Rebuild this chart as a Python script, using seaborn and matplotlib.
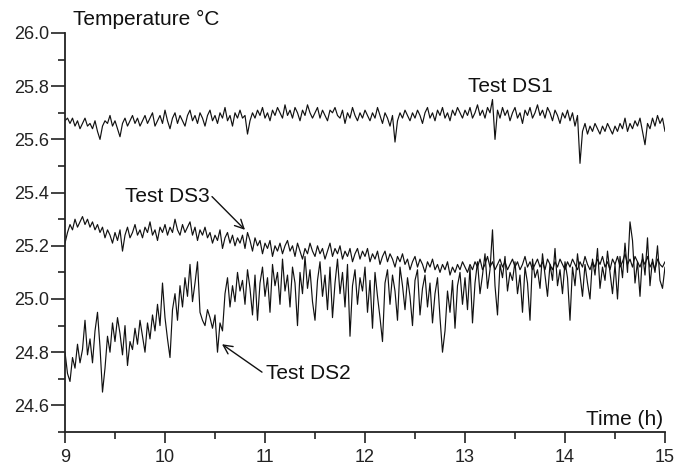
import numpy as np
import pandas as pd
import matplotlib
matplotlib.use("Agg")
import matplotlib.pyplot as plt
import seaborn as sns

# ---- data (temperature in °C, sampled every 0.025 h from 9 h to 15 h) ----
t_start, t_end = 9.0, 15.0

ds1 = [
    25.67, 25.68, 25.66, 25.68, 25.65, 25.67, 25.64, 25.66, 25.68, 25.65,
    25.66, 25.64, 25.67, 25.63, 25.60, 25.65, 25.67, 25.66, 25.69, 25.65,
    25.67, 25.64, 25.61, 25.66, 25.68, 25.65, 25.67, 25.69, 25.66, 25.68,
    25.65, 25.67, 25.69, 25.66, 25.68, 25.70, 25.65, 25.67, 25.69, 25.66,
    25.71, 25.67, 25.64, 25.68, 25.70, 25.66, 25.69, 25.67, 25.65, 25.69,
    25.71, 25.67, 25.69, 25.66, 25.70, 25.68, 25.65, 25.69, 25.71, 25.67,
    25.69, 25.66, 25.70, 25.68, 25.72, 25.67, 25.69, 25.65, 25.70, 25.68,
    25.71, 25.68, 25.69, 25.62, 25.67, 25.70, 25.68, 25.71, 25.69, 25.72,
    25.68, 25.70, 25.67, 25.71, 25.69, 25.72, 25.70, 25.68, 25.73, 25.69,
    25.71, 25.68, 25.72, 25.70, 25.67, 25.71, 25.69, 25.73, 25.70, 25.68,
    25.70, 25.72, 25.68, 25.71, 25.69, 25.67, 25.71, 25.70, 25.72, 25.69,
    25.68, 25.71, 25.66, 25.70, 25.68, 25.72, 25.69, 25.67, 25.70, 25.68,
    25.71, 25.69, 25.67, 25.70, 25.68, 25.72, 25.69, 25.66, 25.70, 25.68,
    25.65, 25.69, 25.59, 25.67, 25.70, 25.68, 25.71, 25.69, 25.67, 25.70,
    25.68, 25.71, 25.69, 25.66, 25.70, 25.72, 25.68, 25.70, 25.67, 25.71,
    25.69, 25.72, 25.68, 25.70, 25.67, 25.71, 25.69, 25.72, 25.70, 25.68,
    25.71, 25.69, 25.72, 25.68, 25.70, 25.73, 25.69, 25.71, 25.68, 25.72,
    25.70, 25.75, 25.60, 25.71, 25.68, 25.72, 25.69, 25.71, 25.67, 25.70,
    25.72, 25.68, 25.70, 25.66, 25.71, 25.69, 25.72, 25.68, 25.70, 25.73,
    25.69, 25.71, 25.68, 25.72, 25.70, 25.67, 25.71, 25.69, 25.66, 25.70,
    25.68, 25.71, 25.67, 25.70, 25.65, 25.69, 25.51, 25.63, 25.66, 25.62,
    25.65, 25.63, 25.66, 25.64, 25.62, 25.65, 25.63, 25.66, 25.64, 25.62,
    25.65, 25.63, 25.66, 25.64, 25.68, 25.63, 25.66, 25.64, 25.67, 25.65,
    25.68, 25.63, 25.58, 25.66, 25.64, 25.68, 25.65, 25.69, 25.66, 25.68,
    25.63,
]

ds3 = [
    25.21, 25.25, 25.28, 25.26, 25.30, 25.27, 25.29, 25.31, 25.28, 25.30,
    25.27, 25.29, 25.26, 25.28, 25.25, 25.27, 25.23, 25.26, 25.24, 25.21,
    25.25, 25.22, 25.26, 25.18, 25.24, 25.27, 25.23, 25.25, 25.28, 25.24,
    25.26, 25.23, 25.27, 25.25, 25.29, 25.24, 25.26, 25.22, 25.27, 25.25,
    25.28, 25.24, 25.27, 25.25, 25.30, 25.26, 25.24, 25.28, 25.25, 25.27,
    25.29, 25.24, 25.27, 25.22, 25.26, 25.24, 25.27, 25.23, 25.25, 25.21,
    25.24, 25.22, 25.26, 25.19, 25.23, 25.25, 25.21, 25.24, 25.20, 25.23,
    25.21, 25.24, 25.19, 25.25, 25.22, 25.18, 25.23, 25.20, 25.22, 25.17,
    25.21, 25.19, 25.22, 25.16, 25.20, 25.18, 25.21, 25.17, 25.20, 25.22,
    25.18, 25.20, 25.16, 25.21, 25.18, 25.15, 25.19, 25.17, 25.21, 25.18,
    25.16, 25.20, 25.17, 25.19, 25.15, 25.18, 25.21, 25.16, 25.19, 25.17,
    25.20, 25.15, 25.18, 25.16, 25.19, 25.14, 25.17, 25.19, 25.15, 25.18,
    25.16, 25.19, 25.14, 25.17, 25.15, 25.18, 25.13, 25.16, 25.18, 25.14,
    25.17, 25.15, 25.12, 25.16, 25.14, 25.17, 25.13, 25.15, 25.11, 25.14,
    25.16, 25.12, 25.15, 25.13, 25.10, 25.14, 25.12, 25.15, 25.11, 25.13,
    25.10, 25.13, 25.11, 25.14, 25.09, 25.12, 25.10, 25.13, 25.11, 25.14,
    25.12, 25.10, 25.13, 25.11, 25.14, 25.12, 25.15, 25.11, 25.13, 25.16,
    25.12, 25.14, 25.11, 25.13, 25.15, 25.12, 25.14, 25.11, 25.13, 25.15,
    25.12, 25.14, 25.11, 25.13, 25.16, 25.12, 25.14, 25.11, 25.13, 25.15,
    25.12, 25.14, 25.11, 25.15, 25.13, 25.11, 25.14, 25.12, 25.15, 25.13,
    25.11, 25.14, 25.12, 25.15, 25.13, 25.11, 25.14, 25.12, 25.16, 25.13,
    25.11, 25.14, 25.12, 25.15, 25.13, 25.16, 25.12, 25.14, 25.11, 25.15,
    25.13, 25.16, 25.12, 25.14, 25.17, 25.13, 25.15, 25.12, 25.16, 25.14,
    25.12, 25.15, 25.13, 25.16, 25.12, 25.14, 25.11, 25.15, 25.13, 25.12,
    25.14,
]

ds2 = [
    24.80, 24.72, 24.69, 24.78, 24.74, 24.83, 24.76, 24.81, 24.92, 24.79,
    24.85, 24.76, 24.88, 24.95, 24.82, 24.65, 24.74, 24.86, 24.80, 24.91,
    24.84, 24.93, 24.87, 24.79, 24.90, 24.75, 24.84, 24.81, 24.89, 24.83,
    24.92, 24.86, 24.80, 24.91, 24.85, 24.94, 24.88, 24.98, 24.90, 25.06,
    24.93, 24.85, 24.78, 24.96, 25.02, 24.92, 25.05, 24.97, 25.08, 25.01,
    25.13, 24.99, 25.06, 25.14, 24.95, 24.92, 24.90, 24.96, 24.93, 24.89,
    24.94, 24.80, 24.91, 24.88, 25.02, 25.08, 24.97, 25.05, 24.99, 25.10,
    25.03, 25.07, 24.98, 25.11, 25.04, 24.94, 25.09, 24.92, 25.06, 25.12,
    25.01, 25.08, 24.95, 25.13, 25.05, 25.10, 24.98, 25.15, 25.03, 25.09,
    24.97, 25.12, 25.06, 24.90, 25.10, 25.02, 25.16, 25.04, 25.11, 24.99,
    24.92, 25.07, 25.14, 25.01, 25.09, 24.96, 25.12, 24.93, 25.06, 25.15,
    25.02, 25.10, 24.97, 25.13, 24.86, 25.05, 25.11, 24.98, 25.08, 25.03,
    25.12, 24.95, 25.07, 24.89, 25.10, 25.01, 24.93, 24.84, 25.06, 25.11,
    24.98, 25.09, 25.03, 24.92, 25.12, 25.05, 24.96, 25.08, 25.01, 24.90,
    25.07, 25.11, 24.94, 25.04, 25.09, 24.97, 25.06, 24.91, 25.02, 25.08,
    24.93, 24.80, 24.88, 25.03, 24.95, 25.07, 24.89, 25.05, 25.10, 24.98,
    25.08, 24.96, 25.12, 24.91, 25.06, 25.14, 25.02, 25.09, 25.17, 25.04,
    25.11, 25.26, 25.05, 24.94, 25.13, 25.08, 25.16, 25.03, 25.10, 25.07,
    25.14, 25.02, 25.09, 24.95, 25.12, 25.06, 24.92, 25.15, 25.08, 25.11,
    25.04, 25.17, 25.09, 25.01, 25.13, 25.07, 25.19, 25.05, 25.11, 25.02,
    25.14, 25.08, 24.92, 25.12, 25.05, 25.17, 25.09, 25.01, 25.13, 25.06,
    25.00, 25.15, 25.09, 25.19, 25.04, 25.12, 25.07, 25.18, 25.10, 25.02,
    25.13, 25.00, 25.16, 25.08, 25.21, 25.10, 25.29, 25.22, 25.06, 25.14,
    25.01, 25.17, 25.09, 25.23, 25.05, 25.15, 25.10, 25.20, 25.07, 25.04,
    25.12,
]

series_names = ["Test DS1", "Test DS2", "Test DS3"]

# ---- build long table ----
frames = []
for name, vals in zip(series_names, [ds1, ds2, ds3]):
    t = np.linspace(t_start, t_end, len(vals))
    frames.append(pd.DataFrame({"time": t, "temp": vals, "series": name}))
df = pd.concat(frames, ignore_index=True)

sns.set_style("ticks")
plt.rcParams["font.family"] = ["Liberation Sans", "DejaVu Sans"]

fig = plt.figure(figsize=(6.75, 4.66), dpi=100)
ax = fig.add_axes([65 / 675, 1 - 432 / 466, 600 / 675, 399 / 466])

sns.lineplot(data=df, x="time", y="temp", units="series", estimator=None,
             color="#111111", linewidth=0.85, ax=ax, legend=False)

ax.set_xlim(9, 15)
ax.set_ylim(24.5, 26.0)
ax.set_xticks([9, 10, 11, 12, 13, 14, 15])
ax.set_xticks(np.arange(9.5, 15, 1.0), minor=True)
ax.set_yticks([24.6, 24.8, 25.0, 25.2, 25.4, 25.6, 25.8, 26.0])
ax.set_yticks([24.5, 24.7, 24.9, 25.1, 25.3, 25.5, 25.7, 25.9], minor=True)
ax.set_yticklabels([f"{v:.1f}" for v in ax.get_yticks()])
ax.set_xlabel("")
ax.set_ylabel("")

for s in ["top", "right"]:
    ax.spines[s].set_visible(False)
for s in ["left", "bottom"]:
    ax.spines[s].set_linewidth(1.3)
    ax.spines[s].set_color("#222222")

ax.tick_params(axis="y", which="major", length=10, width=1.2, pad=1.5,
               labelsize=13, colors="#222222")
ax.tick_params(axis="y", which="minor", length=5, width=1.2, colors="#222222")
ax.tick_params(axis="x", which="major", length=8, width=1.2, pad=4,
               labelsize=13, colors="#222222")
ax.tick_params(axis="x", which="minor", length=5, width=1.2, colors="#222222")

ax.text(0.013, 1.033, "Temperature °C", transform=ax.transAxes,
        ha="left", va="center", fontsize=15, color="#111111", clip_on=False)
ax.text(0.997, 0.008, "Time (h)", transform=ax.transAxes,
        ha="right", va="bottom", fontsize=15, color="#111111")

ax.text(13.45, 25.80, "Test DS1", ha="center", va="center", fontsize=15,
        color="#111111")

arrow_kw = dict(arrowstyle="->", color="#111111", lw=1.0,
                shrinkA=0, shrinkB=0, mutation_scale=16)
ax.text(10.02, 25.385, "Test DS3", ha="center", va="center", fontsize=15,
        color="#111111")
ax.annotate("", xy=(10.80, 25.26), xytext=(10.47, 25.385), arrowprops=arrow_kw)
ax.text(11.43, 24.72, "Test DS2", ha="center", va="center", fontsize=15,
        color="#111111")
ax.annotate("", xy=(10.57, 24.83), xytext=(10.97, 24.725), arrowprops=arrow_kw)

fig.savefig("out.png", dpi=100)
